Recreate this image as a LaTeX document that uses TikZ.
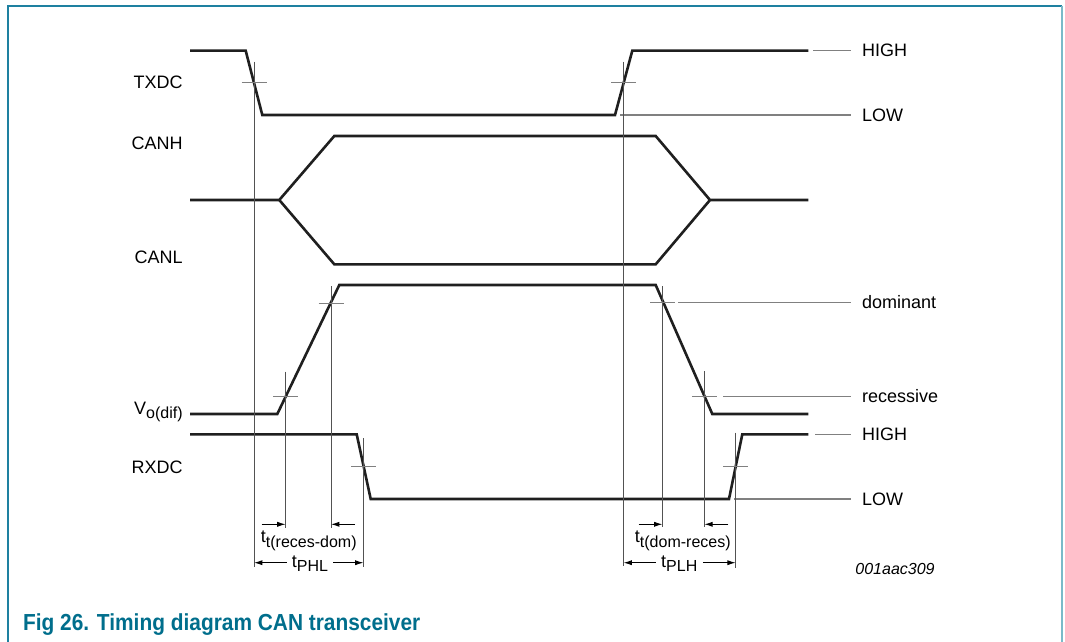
\documentclass[tikz,border=0pt]{standalone}
\usepackage{fontspec}
\setmainfont{Liberation Sans}
\newfontfamily\capfont[FakeStretch=0.9]{Liberation Sans}
\usetikzlibrary{arrows.meta}

\definecolor{framedark}{RGB}{30,128,160}
\definecolor{framelight}{RGB}{122,186,200}
\definecolor{captioncol}{RGB}{0,110,140}
\newcommand{\lowidx}[1]{\raisebox{-2.2pt}{\fontsize{8}{9}\selectfont #1}}

\begin{document}
\begin{tikzpicture}[
    x=0.5pt, y=-0.5pt,
    sig/.style={line width=1.3pt, black!88},
    guide/.style={line width=0.5pt, black!68},
    crossmark/.style={line width=0.7pt, black!50},
    refline/.style={line width=0.7pt, black!50},
    dim/.style={-{Latex[length=4.2pt,width=2.6pt]}, line width=0.5pt},
    lbl/.style={font=\fontsize{9}{10}\selectfont, inner sep=0pt, text height=6.2pt, text depth=0pt}
]
\useasboundingbox (0,0) rectangle (1065,642);
% frame
\draw[line width=1pt, framedark] (8.3,642) -- (8.3,5.7) -- (1061.7,5.7);
\draw[line width=1pt, framelight] (1061.7,5.7) -- (1061.7,642);

% signal names
\node[lbl, anchor=east] (txdc) at (183,82.7) {TXDC};
\node[lbl, anchor=east] (canh) at (183,143.3) {CANH};
\node[lbl, anchor=east] (canl) at (183,257.5) {CANL};
\node[lbl, anchor=base east] (vodif) at (183,414) {V\lowidx{o(dif)}};
\node[lbl, anchor=east] (rxdc) at (183,467) {RXDC};

% waveforms
\draw[sig] (190,50.7) -- (245.7,50.7) -- (262.3,115) -- (615,115) -- (632.3,50.7) -- (808.3,50.7);
\draw[sig] (190,200) -- (279.3,200) -- (334.3,136) -- (655.7,136) -- (710,200) -- (808.3,200);
\draw[sig] (279.3,200) -- (334.3,264.3) -- (655.7,264.3) -- (710,200);
\draw[sig] (190,414) -- (277.3,414) -- (339.3,285) -- (655.7,285) -- (712.3,414) -- (808.3,414);
\draw[sig] (190,434.3) -- (356.7,434.3) -- (370.7,499) -- (729,499) -- (742.3,434.3) -- (808.3,434.3);

% levels
\foreach \y/\txt/\xs/\name in {50.7/HIGH/813.3/txh, 115/LOW/620/txl, 302.7/dominant/678.3/dom,
    396.7/recessive/723.3/rec, 434.3/HIGH/815/rxh, 499/LOW/734.3/rxl} {
  \node[lbl, anchor=west, inner xsep=5.5pt] (lv\name) at (850.7,\y) {\txt};
  \draw[refline] (\xs,\y) -- (lv\name.west);
}

% guide lines and threshold marks
\foreach \x/\ya/\yb in {254/61.7/567, 623.5/61.7/566, 285.6/371.7/528, 331/286/528,
    662.5/286/527, 704.3/371/527, 363.5/438.3/567, 735.7/432.7/568}
  \draw[guide] (\x,\ya) -- (\x,\yb);
\foreach \x/\y in {254/82.7, 623.5/82.7, 331/303.3, 285.6/396.7,
    662.5/302.7, 704.3/396.7, 363.5/466.7, 735.7/466.7}
  \draw[crossmark] (\x-12.5,\y) -- (\x+12.5,\y);

% timing marks
\coordinate (pA) at (254,562.7);
\coordinate (pB) at (363.5,562.7);
\coordinate (pC) at (623.5,562.7);
\coordinate (pD) at (735.7,562.7);
\coordinate (qA) at (285.6,524.3);
\coordinate (qB) at (331,524.3);
\coordinate (qC) at (662.5,524.3);
\coordinate (qD) at (704.3,524.3);

\node[lbl, anchor=base] (ttrd) at (308.8,542.7) {t\lowidx{t(reces-dom)}};
\node[lbl, anchor=base] (ttdr) at (682.8,542.7) {t\lowidx{t(dom-reces)}};
\node[lbl, anchor=base, inner xsep=2.5pt] (tphl) at (310,567.5) {t\lowidx{PHL}};
\node[lbl, anchor=base, inner xsep=2.5pt] (tplh) at (679.3,567.5) {t\lowidx{PLH}};

\draw[dim] ([xshift=-12pt]qA) -- (qA);
\draw[dim] ([xshift=12pt]qB) -- (qB);
\draw[dim] ([xshift=-12pt]qC) -- (qC);
\draw[dim] ([xshift=12pt]qD) -- (qD);
\draw[dim] (tphl.west |- pA) -- (pA);
\draw[dim] (tphl.east |- pB) -- (pB);
\draw[dim] (tplh.west |- pC) -- (pC);
\draw[dim] (tplh.east |- pD) -- (pD);

\node[inner sep=0pt, font=\fontsize{8}{9}\selectfont\itshape] (figid) at (895,569.3) {001aac309};

% caption
\node[anchor=base west, inner sep=0pt, text=captioncol,
      font=\capfont\bfseries\fontsize{11.6}{13}\selectfont] (caption) at (22.7,630)
      {Fig 26. Timing diagram CAN transceiver};
\end{tikzpicture}
\end{document}
